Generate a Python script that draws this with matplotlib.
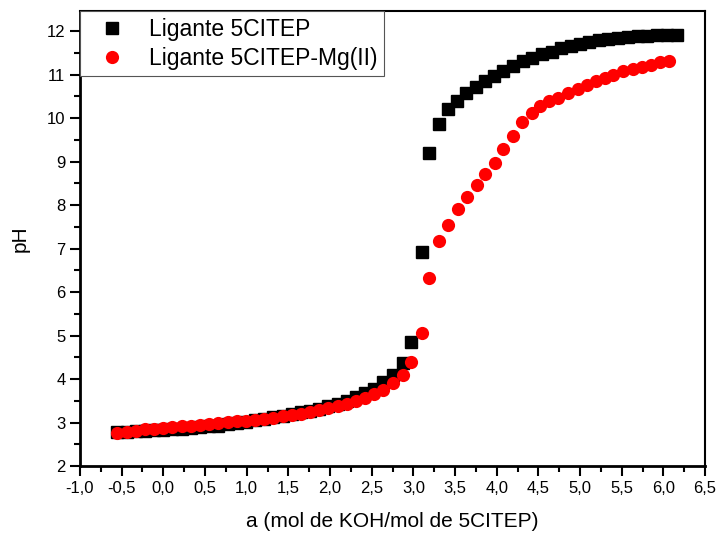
import matplotlib.pyplot as plt
from matplotlib.ticker import MultipleLocator, FuncFormatter

plt.rcParams['font.family'] = ['Liberation Sans', 'DejaVu Sans']

# Ligante 5CITEP (quadrados pretos)
a_lig = [-0.56, -0.44, -0.33, -0.22, -0.11, 0.00, 0.11, 0.22, 0.33, 0.44,
         0.55, 0.66, 0.77, 0.88, 0.99, 1.10, 1.21, 1.32, 1.43, 1.54,
         1.65, 1.76, 1.87, 1.98, 2.09, 2.20, 2.31, 2.42, 2.53, 2.64,
         2.75, 2.87, 2.97, 3.10, 3.19, 3.31, 3.41, 3.53, 3.63, 3.75,
         3.86, 3.97, 4.08, 4.20, 4.31, 4.42, 4.54, 4.66, 4.77, 4.89,
         5.00, 5.11, 5.23, 5.34, 5.46, 5.57, 5.69, 5.80, 5.92, 6.04, 6.16]
ph_lig = [2.78, 2.79, 2.80, 2.81, 2.82, 2.83, 2.84, 2.86, 2.87, 2.89,
          2.91, 2.93, 2.96, 2.99, 3.02, 3.05, 3.08, 3.12, 3.15, 3.19,
          3.23, 3.27, 3.32, 3.37, 3.43, 3.50, 3.58, 3.67, 3.78, 3.93,
          4.10, 4.37, 4.86, 6.93, 9.20, 9.86, 10.20, 10.39, 10.58, 10.72,
          10.85, 10.97, 11.09, 11.20, 11.32, 11.39, 11.46, 11.52, 11.61, 11.66,
          11.70, 11.75, 11.79, 11.81, 11.84, 11.86, 11.88, 11.89, 11.90, 11.90, 11.90]

# Ligante 5CITEP-Mg(II) (circulos vermelhos)
a_mg = [-0.56, -0.44, -0.33, -0.22, -0.11, 0.00, 0.11, 0.22, 0.33, 0.44,
        0.55, 0.66, 0.77, 0.88, 0.99, 1.10, 1.21, 1.32, 1.43, 1.54,
        1.65, 1.76, 1.87, 1.98, 2.09, 2.20, 2.31, 2.42, 2.53, 2.64,
        2.75, 2.87, 2.97, 3.10, 3.19, 3.31, 3.42, 3.54, 3.64, 3.76,
        3.86, 3.98, 4.08, 4.19, 4.30, 4.42, 4.52, 4.63, 4.74, 4.85,
        4.97, 5.08, 5.19, 5.30, 5.40, 5.52, 5.63, 5.74, 5.85, 5.96, 6.07]
ph_mg = [2.77, 2.79, 2.80, 2.84, 2.86, 2.87, 2.89, 2.91, 2.93, 2.94,
         2.97, 2.99, 3.01, 3.03, 3.04, 3.06, 3.09, 3.11, 3.14, 3.17,
         3.20, 3.24, 3.29, 3.33, 3.37, 3.43, 3.49, 3.56, 3.66, 3.75,
         3.90, 4.09, 4.39, 5.06, 6.32, 7.17, 7.53, 7.90, 8.19, 8.46,
         8.71, 8.97, 9.28, 9.59, 9.91, 10.12, 10.28, 10.38, 10.47, 10.57,
         10.66, 10.75, 10.84, 10.92, 10.99, 11.07, 11.13, 11.18, 11.23, 11.28, 11.31]

fig = plt.figure(figsize=(7.17, 5.37), dpi=100)
ax = fig.add_axes([80 / 717, 71 / 537, 625 / 717, 455 / 537])

ax.plot(a_lig, ph_lig, 's', color='black', markersize=8.5, label='Ligante 5CITEP')
ax.plot(a_mg, ph_mg, 'o', color='red', markersize=9.5, markeredgewidth=0,
        label='Ligante 5CITEP-Mg(II)')

ax.set_xlim(-1.0, 6.5)
ax.set_ylim(2, 12.46)
ax.xaxis.set_major_locator(MultipleLocator(0.5))
ax.xaxis.set_minor_locator(MultipleLocator(0.25))
ax.yaxis.set_major_locator(MultipleLocator(1))
ax.yaxis.set_minor_locator(MultipleLocator(0.5))
ax.xaxis.set_major_formatter(FuncFormatter(lambda v, p: f"{v:.1f}".replace('.', ',')))
ax.tick_params(which='both', direction='out', top=False, right=False, width=1.5)
ax.tick_params(which='major', length=7, labelsize=12)
ax.tick_params(which='minor', length=4)
for side in ['left', 'bottom']:
    ax.spines[side].set_linewidth(2)
for side in ['top', 'right']:
    ax.spines[side].set_linewidth(1.5)

ax.set_xlabel('a (mol de KOH/mol de 5CITEP)', fontsize=15, labelpad=12)
ax.set_ylabel('pH', fontsize=15, labelpad=12)

leg = ax.legend(loc='upper left', bbox_to_anchor=(0, 1), borderaxespad=0,
                fontsize=16.5, frameon=True, fancybox=False, framealpha=1,
                edgecolor='#555555', handlelength=2.2, handletextpad=0.5,
                labelspacing=0.25, borderpad=0.3)
leg.get_frame().set_linewidth(0.8)

fig.savefig('out.png', dpi=100)
